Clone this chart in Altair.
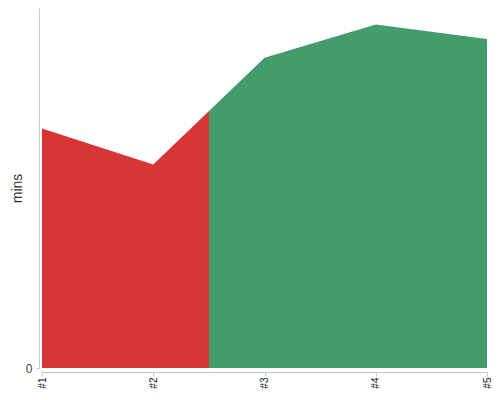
import altair as alt
import pandas as pd

categories = ["#1", "#2", "#3", "#4", "#5"]
minutes = [66.5, 56.5, 86.2, 95.4, 91.4]
split_index = 1.5  # colour changes halfway between #2 and #3
red = "#d83535"
green = "#449c6d"

df = pd.DataFrame({"run": categories, "mins": minutes})
off = split_index / (len(categories) - 1)

chart = alt.Chart(df).mark_area(
    color=alt.Gradient(
        gradient="linear",
        stops=[
            alt.GradientStop(color=red, offset=0),
            alt.GradientStop(color=red, offset=off),
            alt.GradientStop(color=green, offset=off),
            alt.GradientStop(color=green, offset=1),
        ],
        x1=0, x2=1, y1=0, y2=0,
    ),
    interpolate="linear",
).encode(
    x=alt.X("run:N", sort=categories, title=None,
            scale=alt.Scale(type="point", padding=0),
            axis=alt.Axis(labelAngle=270, offset=4, tickSize=4, labelPadding=1,
                          domainColor="#c8c8c8", tickColor="#c8c8c8",
                          labelColor="#222", labelFontSize=10, grid=False,
                          labelAlign="right", labelBaseline="middle")),
    y=alt.Y("mins:Q", title="mins",
            scale=alt.Scale(domain=[0, 100], nice=False),
            axis=alt.Axis(values=[0], offset=3, tickSize=3, labelPadding=4,
                          domainColor="#c8c8c8", tickColor="#c8c8c8",
                          labelColor="#444", labelFontSize=12,
                          titleFontSize=14, titleFontWeight="normal",
                          titleColor="#333", titlePadding=1, grid=False)),
).properties(
    width=445, height=360,
    autosize=alt.AutoSizeParams(type="none"),
    padding={"left": 34, "top": 0, "right": 5, "bottom": 24},
).configure_view(stroke=None)

chart.save("out.html", embed_options={"renderer": "svg", "actions": False})
